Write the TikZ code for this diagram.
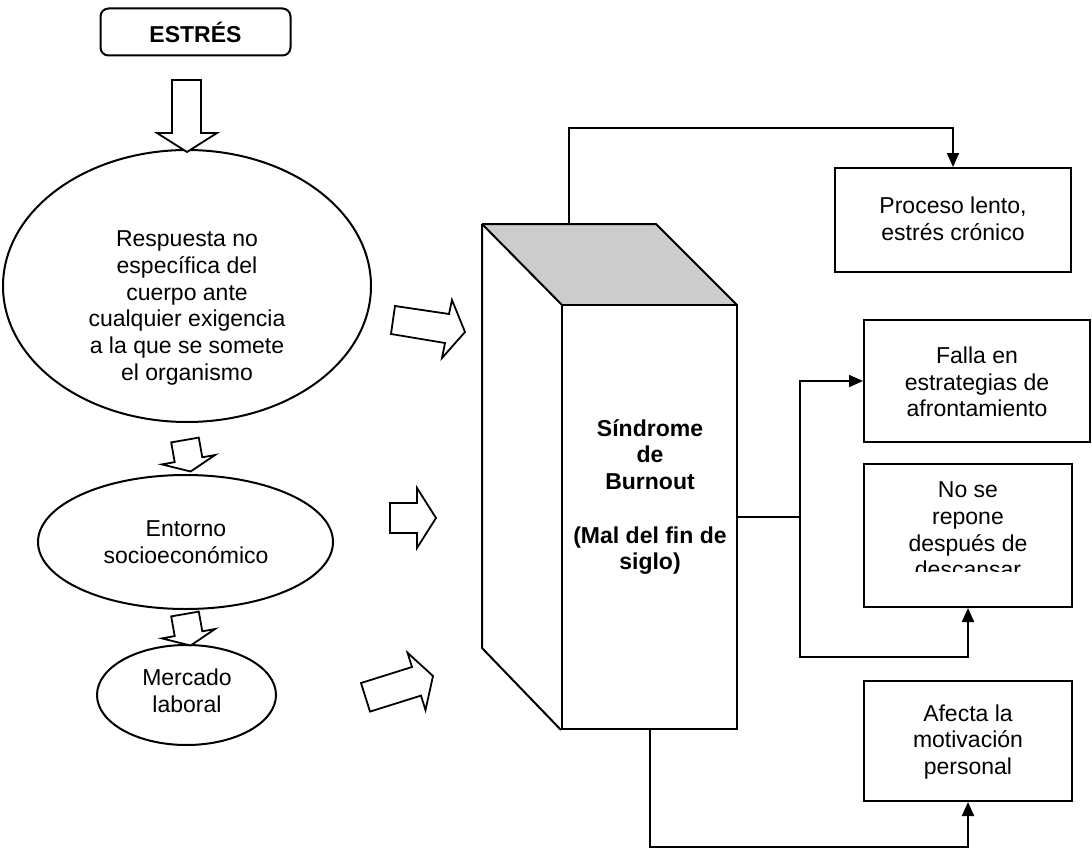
\documentclass[tikz,border=0pt]{standalone}
\usepackage{fontspec}
\setmainfont{Liberation Sans}
\usetikzlibrary{shapes.geometric,arrows.meta}
\begin{document}
\begin{tikzpicture}[x=1pt,y=-1pt,
  line width=2pt, line join=miter,
  txt/.style={font=\fontsize{23}{26.7}\selectfont, align=center, inner sep=0pt},
  btxt/.style={font=\fontsize{23}{26.7}\selectfont\bfseries, align=center, inner sep=0pt},
  oval/.style={draw, ellipse, inner sep=0pt},
  rbox/.style={draw, rectangle, inner sep=0pt},
  conn/.style={line width=2pt},
  arr/.style={conn, -{Triangle[length=14pt,width=12pt]}},
  blockarrow/.style={draw, line width=1.8pt, fill=white, line join=miter}
]
\useasboundingbox (0,0) rectangle (1092,848);

% ESTRES box
\node[rbox, rounded corners=8pt, minimum width=190pt, minimum height=47pt, btxt] (estres) at (195.5,32) {ESTRÉS};

% ellipses
\node[oval, minimum width=368pt, minimum height=272pt] (e1) at (187,286) {};
\node[txt] (t1) at (187,308) {Respuesta no\\específica del\\cuerpo ante\\cualquier exigencia\\a la que se somete\\el organismo};
\node[oval, minimum width=295pt, minimum height=134pt] (e2) at (185.5,542) {};
\node[txt] (t2) at (186,542) {Entorno\\socioeconómico};
\node[oval, minimum width=179pt, minimum height=100pt] (e3) at (186.5,695) {};
\node[txt] (t3) at (187,691) {Mercado\\laboral};

% block arrows (down)
\draw[blockarrow] (172,80) -- (201,80) -- (201,133) -- (217,133) -- (187,152) -- (157,133) -- (172,133) -- cycle;
\draw[blockarrow] (171.2,442.4) -- (198.8,437.6) -- (202.3,457.3) -- (215.1,455.0) -- (190.6,471.5) -- (161.9,464.4) -- (174.7,462.1) -- cycle;
\draw[blockarrow] (171.2,616.4) -- (198.8,611.6) -- (202.3,631.3) -- (215.1,629.0) -- (190.6,645.5) -- (161.9,638.4) -- (174.7,636.1) -- cycle;

% block arrows (right)
\draw[blockarrow] (395,306) -- (449,314) -- (452,300) -- (465,332) -- (442,358) -- (445,343) -- (391,334) -- cycle;
\draw[blockarrow] (390,503) -- (417,503) -- (417,488) -- (436,518) -- (417,548) -- (417,533) -- (390,533) -- cycle;
\draw[blockarrow] (361,683) -- (412,667) -- (407.5,652.7) -- (433,676) -- (425.5,710) -- (421,695.6) -- (370,711.6) -- cycle;

% 3D box
\coordinate (bA) at (482,224);
\coordinate (bB) at (656,224);
\coordinate (bC) at (737,305);
\coordinate (bD) at (562,305);
\coordinate (bG) at (482,648);
\fill[black!20] (bA) -- (bB) -- (bC) -- (bD) -- cycle;
\node[rbox, minimum width=175pt, minimum height=424pt] (front) at (649.5,517) {};
\draw (bA) -- (bB) -- (bC);
\draw (bA) -- (bD);
\draw (bA) -- (bG) -- (front.south west);
\node[btxt] (tb) at (650,497) {Síndrome\\de\\Burnout\\[26.7pt](Mal del fin de\\siglo)};

% right boxes
\node[rbox, minimum width=236pt, minimum height=104pt] (proc) at (953,220) {};
\node[txt] (tproc) at (953,219) {Proceso lento,\\estrés crónico};
\node[rbox, minimum width=226pt, minimum height=122pt] (falla) at (977,381) {};
\node[txt] (tfalla) at (977,382) {Falla en\\estrategias de\\afrontamiento};
\node[rbox, minimum width=208pt, minimum height=143pt] (nose) at (968,535.5) {};
\begin{scope}
\clip (864,464) rectangle (1072,571);
\node[txt] (tnose) at (968,530) {No se\\repone\\después de\\descansar};
\end{scope}
\node[rbox, minimum width=208pt, minimum height=120pt] (afecta) at (968,741) {};
\node[txt] (tafecta) at (968,742) {Afecta la\\motivación\\personal};

% connectors
\coordinate (topc) at (569,224);
\coordinate (ktop) at (569,128);
\draw[arr] (topc) -- (ktop) -| (proc.north);
\coordinate (j1) at (800,517);
\coordinate (j2) at (800,657);
\draw[conn] (front.east) -- (j1);
\draw[arr] (j1) |- (falla.west);
\draw[arr] (j1) -- (j2) -| (nose.south);
\coordinate (j3) at (649.5,846.5);
\draw[arr] (front.south) -- (j3) -| (afecta.south);
\end{tikzpicture}
\end{document}
